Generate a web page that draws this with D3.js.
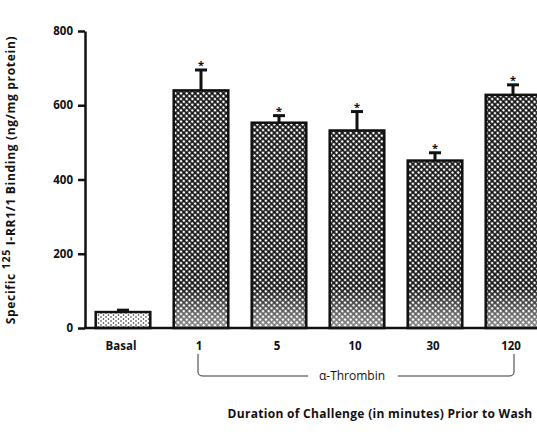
<!DOCTYPE html>
<html>
<head>
<meta charset="utf-8">
<script src="https://cdn.jsdelivr.net/npm/d3@7"></script>
<style>
    body { margin: 0; background: #fff; }
    svg { display: block; }
    text { font-family: "Open Sans", "DejaVu Sans", sans-serif; font-weight: bold; fill: #111; }
</style>
</head>
<body>
<svg id="chart"></svg>
<script>
// 数据
var categories = ['Basal', '1', '5', '10', '30', '120'];
var values = [43, 640, 553, 532, 451, 628];
var errors = [5, 55, 19, 51, 21, 27];
var significant = [false, true, true, true, true, true];
var yTicks = [0, 200, 400, 600, 800];

var svgWidth = 537, svgHeight = 444;
var svg = d3.select('#chart').attr('width', svgWidth).attr('height', svgHeight);

// 图案
var defs = svg.append('defs');
var hatch = defs.append('pattern')
    .attr('id', 'hatch')
    .attr('patternUnits', 'userSpaceOnUse')
    .attr('width', 4).attr('height', 4)
    .attr('patternTransform', 'rotate(45)');
hatch.append('rect').attr('width', 4).attr('height', 4).attr('fill', '#151515');
hatch.append('circle').attr('cx', 2).attr('cy', 2).attr('r', 1.35).attr('fill', '#fff');

var dots = defs.append('pattern')
    .attr('id', 'dots')
    .attr('patternUnits', 'userSpaceOnUse')
    .attr('width', 5).attr('height', 4);
dots.append('rect').attr('width', 5).attr('height', 4).attr('fill', '#fff');
dots.append('circle').attr('cx', 1).attr('cy', 1).attr('r', 0.8).attr('fill', '#222');
dots.append('circle').attr('cx', 3.5).attr('cy', 3).attr('r', 0.8).attr('fill', '#222');

// 底部变浅
var fade = defs.append('linearGradient')
    .attr('id', 'fade').attr('x1', 0).attr('y1', 0).attr('x2', 0).attr('y2', 1);
fade.append('stop').attr('offset', '0%').attr('stop-color', '#fff').attr('stop-opacity', 0);
fade.append('stop').attr('offset', '100%').attr('stop-color', '#fff').attr('stop-opacity', 0.5);

// 比例尺
var x = d3.scaleBand()
    .domain(categories)
    .range([84, 552])
    .paddingInner(0.3)
    .paddingOuter(0.15);
var y = d3.scaleLinear()
    .domain([0, 800])
    .range([328, 31]);

// 柱形
svg.selectAll('.bar')
    .data(values)
    .enter()
    .append('rect')
    .attr('class', 'bar')
    .attr('x', function(d, i) { return x(categories[i]); })
    .attr('y', function(d) { return y(d); })
    .attr('width', x.bandwidth())
    .attr('height', function(d) { return y(0) - y(d); })
    .attr('fill', function(d, i) { return i === 0 ? 'url(#dots)' : 'url(#hatch)'; })
    .attr('stroke', '#111')
    .attr('stroke-width', 2.5);

// 底部渐变
svg.selectAll('.fade')
    .data(values.slice(1))
    .enter()
    .append('rect')
    .attr('x', function(d, i) { return x(categories[i + 1]) + 1.5; })
    .attr('y', y(0) - 40)
    .attr('width', x.bandwidth() - 3)
    .attr('height', 39)
    .attr('fill', 'url(#fade)');

// 误差线
var err = svg.selectAll('.err')
    .data(values)
    .enter()
    .append('g')
    .attr('class', 'err');
err.append('line')
    .attr('x1', function(d, i) { return x(categories[i]) + x.bandwidth() / 2; })
    .attr('x2', function(d, i) { return x(categories[i]) + x.bandwidth() / 2; })
    .attr('y1', function(d) { return y(d); })
    .attr('y2', function(d, i) { return y(d + errors[i]); })
    .attr('stroke', '#111')
    .attr('stroke-width', 3);
err.append('line')
    .attr('x1', function(d, i) { return x(categories[i]) + x.bandwidth() / 2 - 6; })
    .attr('x2', function(d, i) { return x(categories[i]) + x.bandwidth() / 2 + 6; })
    .attr('y1', function(d, i) { return y(d + errors[i]); })
    .attr('y2', function(d, i) { return y(d + errors[i]); })
    .attr('stroke', '#111')
    .attr('stroke-width', 3);
// 星号
err.filter(function(d, i) { return significant[i]; })
    .append('text')
    .attr('x', function(d) { return x(categories[values.indexOf(d)]) + x.bandwidth() / 2; })
    .attr('y', function(d) { return y(d + errors[values.indexOf(d)]) - 1; })
    .attr('text-anchor', 'middle')
    .style('font-size', '11px')
    .text('*');

// x轴
var xAxis = d3.axisBottom(x).tickSize(0).tickPadding(14);
var gx = svg.append('g')
    .attr('transform', 'translate(0, ' + y(0) + ')')
    .call(xAxis);
gx.select('.domain').remove();
gx.selectAll('text').style('font-size', '11.5px').attr('fill', '#111').attr('dx', '-2');
svg.append('line')
    .attr('x1', 84).attr('x2', svgWidth)
    .attr('y1', y(0)).attr('y2', y(0))
    .attr('stroke', '#111').attr('stroke-width', 2.5);

// y轴
var yAxis = d3.axisLeft(y).tickValues(yTicks).tickSize(7).tickPadding(5).tickSizeOuter(0);
var gy = svg.append('g')
    .attr('transform', 'translate(85, 0)')
    .call(yAxis);
gy.select('.domain').attr('stroke', '#111').attr('stroke-width', 2.5);
gy.selectAll('.tick line').attr('stroke', '#111').attr('stroke-width', 2.5);
gy.selectAll('text').style('font-size', '11.5px').attr('fill', '#111');

// y轴标题
var yTitle = svg.append('text')
    .attr('transform', 'translate(15, 180) rotate(-90)')
    .attr('text-anchor', 'middle')
    .style('font-size', '12px')
    .style('letter-spacing', '0.7px');
yTitle.append('tspan').text('Specific ');
yTitle.append('tspan').attr('dy', -5).style('font-size', '10.5px').text('125');
yTitle.append('tspan').attr('dy', 5).text(' I-RR1/1 Binding (ng/mg protein)');

// 括号
var bx1 = x('1') + x.bandwidth() / 2 - 3,
    bx2 = x('120') + x.bandwidth() / 2 + 1,
    bTop = 354, bY = 376;
var bracket = d3.path();
bracket.moveTo(bx1, bTop);
bracket.lineTo(bx1, bY - 4);
bracket.quadraticCurveTo(bx1, bY, bx1 + 5, bY);
bracket.lineTo(308, bY);
bracket.moveTo(398, bY);
bracket.lineTo(bx2 - 5, bY);
bracket.quadraticCurveTo(bx2, bY, bx2, bY - 4);
bracket.lineTo(bx2, bTop);
svg.append('path')
    .attr('d', bracket.toString())
    .attr('fill', 'none')
    .attr('stroke', '#333')
    .attr('stroke-width', 1);
svg.append('text')
    .attr('x', 352)
    .attr('y', bY + 4)
    .attr('text-anchor', 'middle')
    .style('font-size', '12px')
    .style('font-weight', 'normal')
    .text('\u03b1-Thrombin');

// x轴标题
svg.append('text')
    .attr('x', 380)
    .attr('y', 418)
    .attr('text-anchor', 'middle')
    .style('font-size', '12px')
    .style('letter-spacing', '0.3px')
    .text('Duration of Challenge (in minutes) Prior to Wash');
</script>
</body>
</html>
